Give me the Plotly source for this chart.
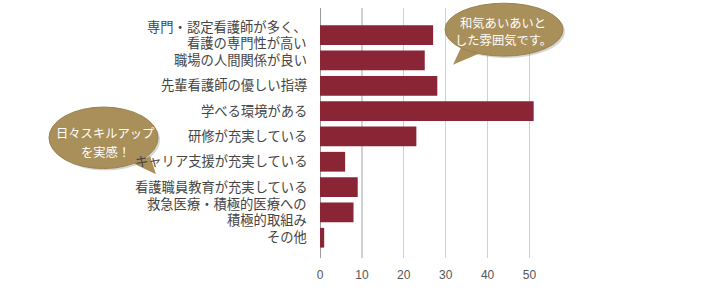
import plotly.graph_objects as go

categories = [
    "専門・認定看護師が多く、<br>看護の専門性が高い",
    "職場の人間関係が良い",
    "先輩看護師の優しい指導",
    "学べる環境がある",
    "研修が充実している",
    "キャリア支援が充実している",
    "看護職員教育が充実している",
    "救急医療・積極的医療への<br>積極的取組み",
    "その他",
]
values = [27, 25, 28, 51, 23, 6, 9, 8, 1]
x_ticks = [0, 10, 20, 30, 40, 50]
bubble1_lines = ["和気あいあいと", "した雰囲気です。"]
bubble2_lines = ["日々スキルアップ", "を実感！"]

W, H = 720, 290
L, R, T, B = 320, 157, 8, 22
PW, PH = W - L - R, H - T - B

def px(x):
    return (x - L) / PW

def py(y):
    return (H - B - y) / PH

BAR = "#8A2535"
GOLD = "#A98F5A"
JP = "Liberation Sans, Noto Sans CJK JP"

fig = go.Figure(go.Bar(
    y=list(range(len(categories))), x=values, orientation="h",
    width=0.78,
    marker=dict(color=BAR, line=dict(color=BAR, width=0)),
    hoverinfo="skip",
))

shapes = []
shapes.append(dict(type="line", xref="x", yref="paper", x0=10, x1=10, y0=0, y1=1,
                   line=dict(color="#8c8c8c", width=1), layer="below"))

def bubble(x0, y0, x1, y1, tail, layer):
    out = []
    out.append(dict(type="circle", xref="paper", yref="paper",
                    x0=px(x0 + 2), x1=px(x1 + 2), y0=py(y1 + 2), y1=py(y0 + 2),
                    fillcolor="rgba(0,0,0,0.16)", line=dict(width=0), layer=layer))
    path = "M {} {} L {} {} L {} {} Z".format(*[v for p in tail for v in (px(p[0]), py(p[1]))])
    out.append(dict(type="path", xref="paper", yref="paper", path=path,
                    fillcolor=GOLD, line=dict(width=0), layer=layer))
    out.append(dict(type="circle", xref="paper", yref="paper",
                    x0=px(x0), x1=px(x1), y0=py(y1), y1=py(y0),
                    fillcolor=GOLD, line=dict(color="#9a814e", width=1), layer=layer))
    return out

shapes += bubble(445, 3, 563, 58, [(462, 47), (453, 67), (482, 54)], "above")
shapes += bubble(49, 111, 158, 175, [(134, 170), (156, 181), (150, 162)], "below")

annotations = []

def bubble_text(lines, cx, ys):
    for t, y in zip(lines, ys):
        annotations.append(dict(xref="paper", yref="paper", x=px(cx), y=py(y), text=t,
                                showarrow=False, xanchor="center", yanchor="middle",
                                font=dict(family=JP, size=12.3, color="white")))

bubble_text(bubble1_lines, 503, [24, 42])
bubble_text(bubble2_lines, 105, [139, 158])

# category labels (one annotation per line, right-aligned)
for i, cat in enumerate(categories):
    parts = cat.split("<br>")
    n = len(parts)
    for j, t in enumerate(parts):
        shift = (n - 1) * 7.75 - j * 15.5
        annotations.append(dict(xref="paper", yref="y", x=px(309), y=i, yshift=shift,
                                text=t, showarrow=False, xanchor="right", yanchor="middle",
                                font=dict(family=JP, size=13.3, color="#444")))

fig.update_layout(
    width=W, height=H,
    margin=dict(l=L, r=R, t=T, b=B, pad=0),
    paper_bgcolor="white", plot_bgcolor="white",
    showlegend=False,
    shapes=shapes,
    annotations=annotations,
    font=dict(family=JP, color="#444"),
    xaxis=dict(range=[0, 58], tickvals=x_ticks, ticktext=[str(v) for v in x_ticks],
               showgrid=True, gridcolor="#d0d0d0", gridwidth=1,
               zeroline=True, zerolinecolor="#9a9a9a", zerolinewidth=1,
               showline=False, ticks="", ticklabelstandoff=8,
               tickfont=dict(family="Liberation Sans", size=12, color="#555")),
    yaxis=dict(tickvals=list(range(len(categories))), showticklabels=False,
               range=[8.8, -1.07], showgrid=False, zeroline=False, showline=False,
               ticks=""),
)

fig.write_html("out.html")
